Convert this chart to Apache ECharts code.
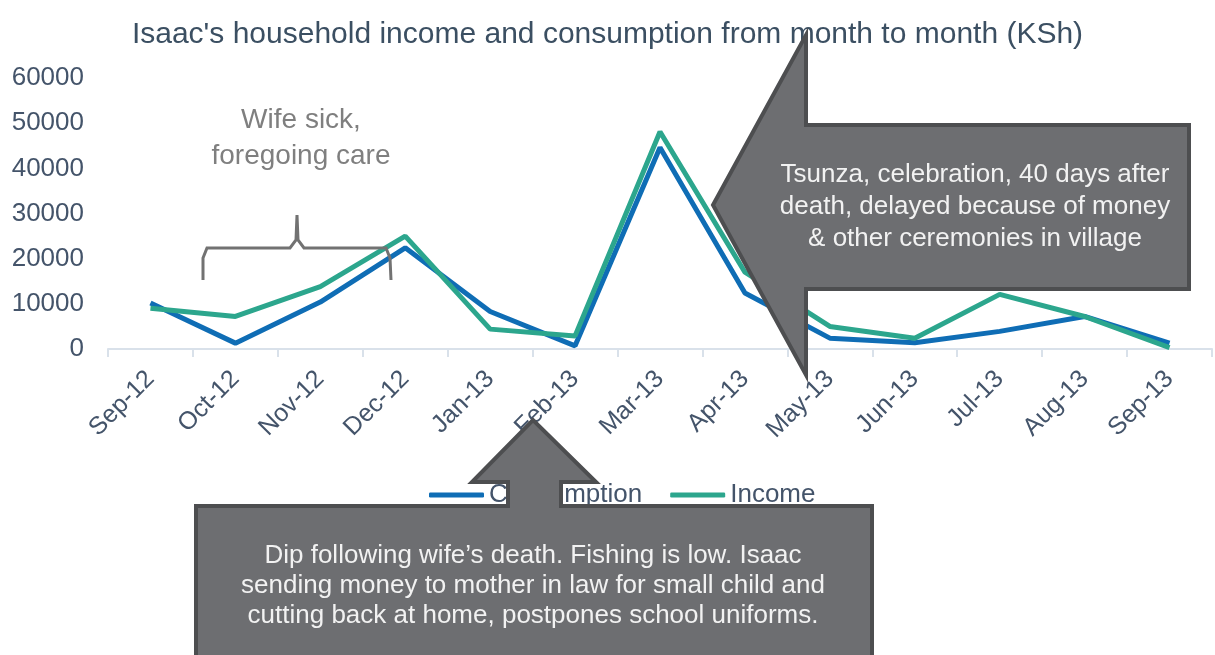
<!DOCTYPE html>
<html>
<head>
<meta charset="utf-8">
<script src="https://cdn.jsdelivr.net/npm/echarts@6/dist/echarts.min.js"></script>
<style>
  html, body { margin: 0; padding: 0; background: #fff; }
  #chart { width: 1215px; height: 655px; }
</style>
</head>
<body>
<div id="chart"></div>
<script>
// months shown on the x axis
const months = ['Sep-12', 'Oct-12', 'Nov-12', 'Dec-12', 'Jan-13', 'Feb-13', 'Mar-13',
  'Apr-13', 'May-13', 'Jun-13', 'Jul-13', 'Aug-13', 'Sep-13']
// KSh per month
const consumption = [10200, 1300, 10400, 22400, 8300, 700, 44600, 12400, 2400, 1400, 3900, 7200, 1300]
const income = [9000, 7200, 13800, 25000, 4400, 2900, 48100, 17000, 5000, 2400, 12100, 7200, 300]

const axisColor = '#44546a'
const calloutFill = '#6d6e71'
const calloutEdge = '#4d4e50'
const font = 'Liberation Sans, Arial, sans-serif'

const chart = echarts.init(document.getElementById('chart'))

chart.setOption({
  animation: false,
  title: {
    text: "Isaac's household income and consumption from month to month (KSh)",
    left: 'center',
    top: 15,
    textStyle: { color: '#3b4f62', fontSize: 30, fontWeight: 'normal', fontFamily: font }
  },
  grid: { left: 108, right: 3, top: 78, bottom: 306, containLabel: false },
  legend: {
    data: ['Consumption', 'Income'],
    left: 424,
    top: 477,
    itemWidth: 55,
    itemHeight: 5,
    itemGap: 28,
    icon: 'roundRect',
    textStyle: { color: axisColor, fontSize: 26, fontFamily: font }
  },
  xAxis: {
    type: 'category',
    data: months,
    boundaryGap: true,
    axisLine: { lineStyle: { color: '#d9e1ea', width: 2 } },
    axisTick: { show: true, interval: 0, length: 8, lineStyle: { color: '#d9e1ea', width: 2 } },
    axisLabel: { interval: 0, rotate: 45, margin: 26, color: axisColor, fontSize: 25, fontFamily: font }
  },
  yAxis: {
    type: 'value',
    min: 0,
    max: 60000,
    interval: 10000,
    splitLine: { show: false },
    axisLine: { show: false },
    axisTick: { show: false },
    axisLabel: {
      margin: 24,
      color: axisColor,
      fontSize: 26,
      fontFamily: font,
      formatter: (v) => String(v)
    }
  },
  series: [
    {
      name: 'Consumption',
      type: 'line',
      data: consumption,
      symbol: 'none',
      color: '#0f6db5',
      lineStyle: { width: 5, color: '#0f6db5' },
      z: 2
    },
    {
      name: 'Income',
      type: 'line',
      data: income,
      symbol: 'none',
      color: '#2ca68d',
      lineStyle: { width: 5, color: '#2ca68d' },
      z: 3
    }
  ],
  graphic: [
    // "wife sick" note with curly brace
    {
      type: 'text',
      x: 301,
      y: 102,
      style: {
        text: 'Wife sick,\nforegoing care',
        fill: '#7f7f7f',
        font: '28px ' + font,
        textAlign: 'center',
        textVerticalAlign: 'top',
        lineHeight: 36
      },
      z: 10
    },
    {
      type: 'polyline',
      shape: {
        points: [[203, 280], [203, 258], [207, 248], [290, 248], [296, 240], [297, 215],
          [298, 240], [304, 248], [386, 248], [390, 258], [391, 280]]
      },
      style: { stroke: '#727272', lineWidth: 3, fill: null },
      z: 10
    },
    // left pointing callout
    {
      type: 'polygon',
      shape: {
        points: [[713, 205], [806, 35], [806, 125], [1189, 125], [1189, 289], [806, 289], [806, 375]]
      },
      style: { fill: calloutFill, stroke: calloutEdge, lineWidth: 4 },
      z: 20
    },
    {
      type: 'text',
      x: 975,
      y: 159,
      style: {
        text: 'Tsunza, celebration, 40 days after\ndeath, delayed because of money\n& other ceremonies in village',
        fill: '#f2f2f2',
        font: '26px ' + font,
        textAlign: 'center',
        textVerticalAlign: 'top',
        lineHeight: 32
      },
      z: 21
    },
    // up pointing callout at the bottom
    {
      type: 'polygon',
      shape: {
        points: [[196, 506], [508, 506], [508, 482], [472, 482], [533, 420], [596, 482],
          [561, 482], [561, 506], [872, 506], [872, 670], [196, 670]]
      },
      style: { fill: calloutFill, stroke: calloutEdge, lineWidth: 4 },
      z: 20
    },
    {
      type: 'text',
      x: 533,
      y: 541,
      style: {
        text: 'Dip following wife\u2019s death. Fishing is low. Isaac\nsending money to mother in law for small child and\ncutting back at home, postpones school uniforms.',
        fill: '#f2f2f2',
        font: '26px ' + font,
        textAlign: 'center',
        textVerticalAlign: 'top',
        lineHeight: 30
      },
      z: 21
    }
  ]
})
</script>
</body>
</html>
